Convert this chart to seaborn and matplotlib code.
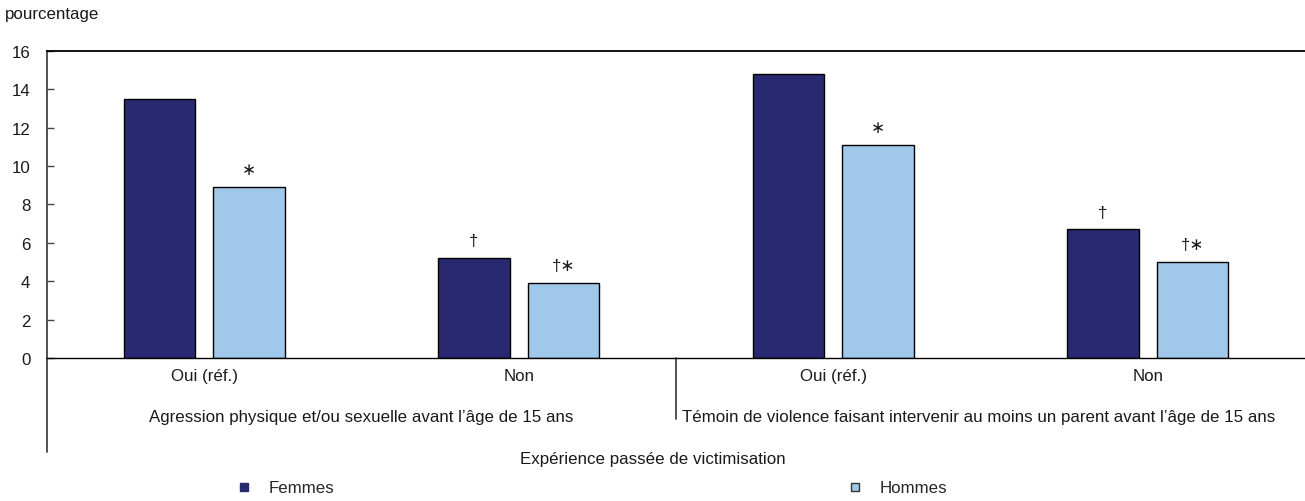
import matplotlib
matplotlib.use("Agg")
import matplotlib.pyplot as plt
import matplotlib.transforms as mtransforms
from matplotlib.lines import Line2D
import seaborn as sns
import pandas as pd

# Data
groups = [
    "Agression physique et/ou sexuelle avant l\u2019âge de 15 ans",
    "Témoin de violence faisant intervenir au moins un parent avant l\u2019âge de 15 ans",
]
answers = ["Oui (réf.)", "Non"]
series = ["Femmes", "Hommes"]
femmes = [13.5, 5.2, 14.8, 6.7]
hommes = [8.9, 3.9, 11.1, 5.0]
femmes_marks = ["", "\u2020", "", "\u2020"]
hommes_marks = ["\u2217", "\u2020\u2217", "\u2217", "\u2020\u2217"]
y_ticks = [0, 2, 4, 6, 8, 10, 12, 14, 16]

colors = {"Femmes": "#282970", "Hommes": "#A0C8EA"}

# Build long table
keys = [f"{g}|{a}" for g in range(len(groups)) for a in answers]
records = []
for i, k in enumerate(keys):
    records.append({"cat": k, "sexe": "Femmes", "value": femmes[i]})
    records.append({"cat": k, "sexe": "Hommes", "value": hommes[i]})
df = pd.DataFrame(records)

sns.set_theme(style="white")
plt.rcParams["font.family"] = ["Liberation Sans", "DejaVu Sans"]
FS = 12.2
TXT = "#1a1a1a"

fig = plt.figure(figsize=(13.05, 5.02), dpi=100)
ax = fig.add_axes([0.036, 0.285, 0.964, 0.6115])

sns.barplot(
    data=df, x="cat", y="value", hue="sexe", order=keys, hue_order=series,
    palette=colors, saturation=1, width=0.57, gap=0.2, edgecolor="black",
    linewidth=1, legend=False, ax=ax,
)

# significance marks above bars
for container, marks in zip(ax.containers, [femmes_marks, hommes_marks]):
    ax.bar_label(container, labels=marks, padding=7, fontsize=FS, color=TXT)

ax.set_xlim(-0.5, 3.5)
ax.set_ylim(0, 16)
ax.set_yticks(y_ticks)
ax.set_yticklabels([str(t) for t in y_ticks], fontsize=FS, color=TXT)
ax.set_xticks(range(len(keys)))
ax.set_xticklabels(answers * len(groups), fontsize=FS, color=TXT)
ax.tick_params(axis="x", length=0, pad=7)
ax.tick_params(axis="y", direction="in", length=5, width=1, color="#444444", pad=12, left=True)
ax.set_xlabel("")
ax.set_ylabel("")

ax.spines["right"].set_visible(False)
ax.spines["top"].set_color("black")
ax.spines["top"].set_linewidth(1.3)
ax.spines["bottom"].set_color("black")
ax.spines["bottom"].set_linewidth(1)
ax.spines["left"].set_color("#444444")
ax.spines["left"].set_linewidth(1.3)

# extend left axis line and group separator below the plot
ax.add_line(Line2D([0, 0], [0, -0.306], transform=ax.transAxes,
                   color="#444444", lw=1.3, clip_on=False))
trans = mtransforms.blended_transform_factory(ax.transData, ax.transAxes)
ax.add_line(Line2D([1.5, 1.5], [0, -0.2], transform=trans,
                   color="#444444", lw=1.3, clip_on=False))

# group labels
ax.text(0.5, -0.19, groups[0], transform=trans, ha="center", va="center", fontsize=FS, color=TXT)
ax.text(1.52, -0.19, groups[1], transform=trans, ha="left", va="center", fontsize=FS, color=TXT)

fig.text(0.5, 0.084, "Expérience passée de victimisation", ha="center", va="center",
         fontsize=FS, color=TXT)
fig.text(0.004, 0.972, "pourcentage", ha="left", va="center", fontsize=FS, color=TXT)

handles = [
    Line2D([], [], marker="s", linestyle="none", markersize=6,
           markerfacecolor=colors["Femmes"], markeredgecolor=colors["Femmes"], label="Femmes"),
    Line2D([], [], marker="s", linestyle="none", markersize=6,
           markerfacecolor=colors["Hommes"], markeredgecolor="#333333", label="Hommes"),
]
fig.legend(handles=handles, ncol=2, loc="center", bbox_to_anchor=(0.453, 0.026),
           frameon=False, fontsize=FS, handlelength=1, handletextpad=0.95,
           columnspacing=30.2)

fig.savefig("out.png", dpi=100)
